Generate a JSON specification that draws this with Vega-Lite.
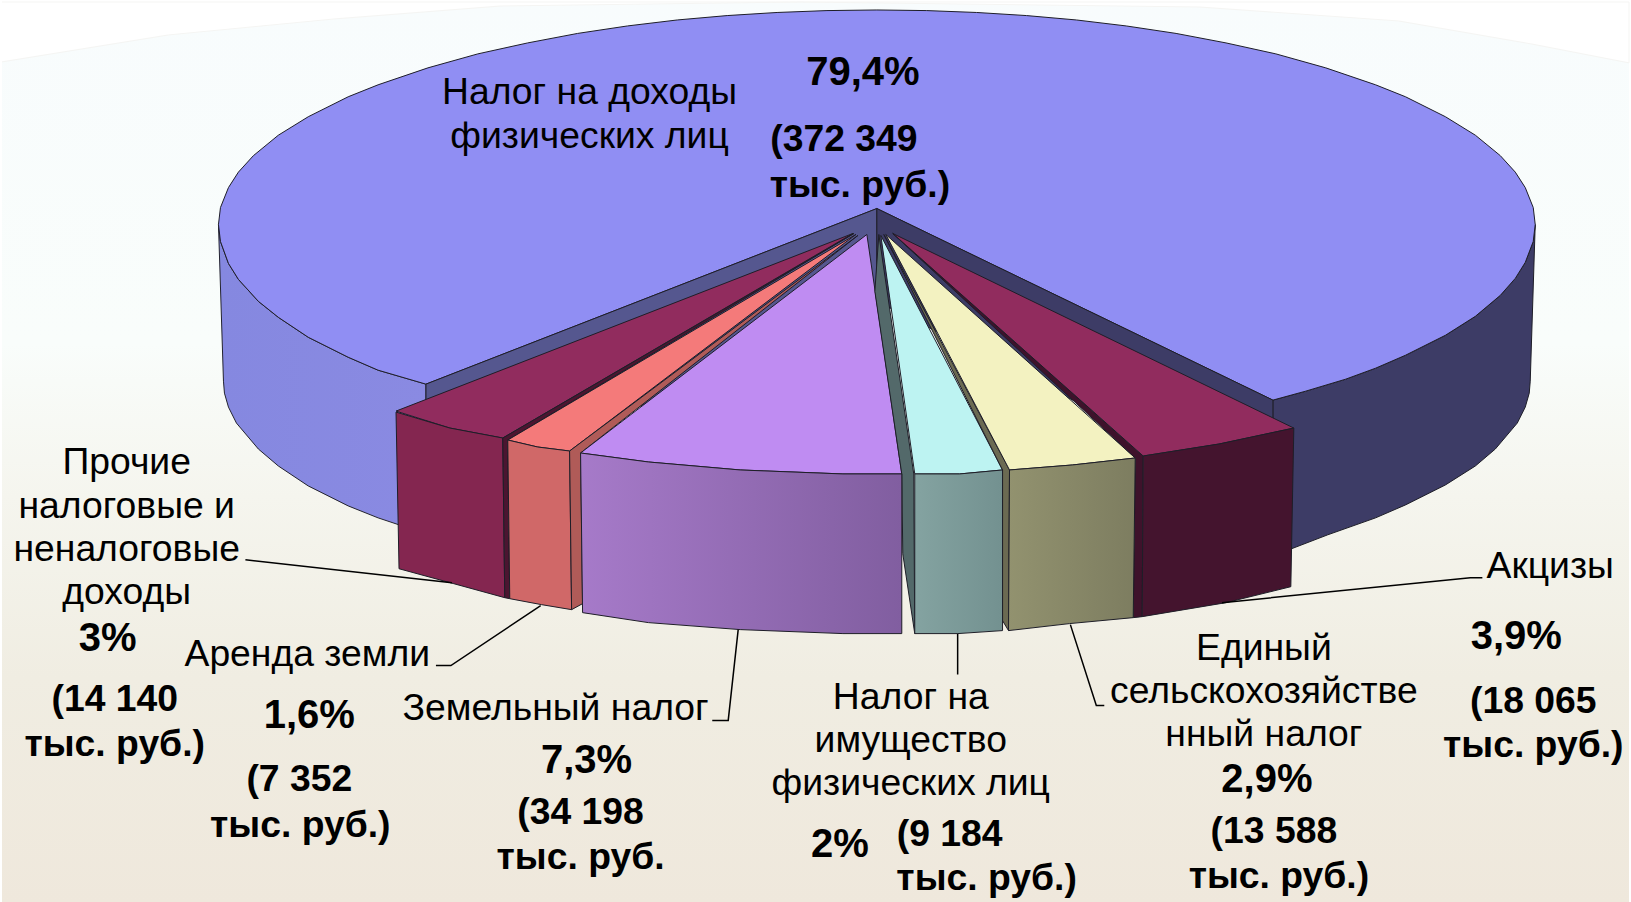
{"$schema":"https://vega.github.io/schema/vega-lite/v6.json","width":1631,"height":902,"padding":0,"autosize":{"type":"fit","contains":"padding"},"background":"#ffffff","config":{"view":{"stroke":null},"axis":{"disable":true}},
"datasets":{
"bg":[{"x":0,"y":0,"x2":1631,"y2":902}],
"arc":[{"s":"a","i":1,"x":0,"y":0},{"s":"a","i":2,"x":1631,"y":0},{"s":"a","i":3,"x":1631,"y":61},{"s":"a","i":4,"x":1533,"y":42},{"s":"a","i":5,"x":1400,"y":19},{"s":"a","i":6,"x":1200,"y":5},{"s":"a","i":7,"x":800,"y":0},{"s":"a","i":8,"x":500,"y":4},{"s":"a","i":9,"x":333,"y":17},{"s":"a","i":10,"x":167,"y":33},{"s":"a","i":11,"x":0,"y":60}],
"leftwall":[{"s":"l","i":1,"x":217,"y":223},{"s":"l","i":2,"x":219,"y":240},{"s":"l","i":3,"x":227,"y":262},{"s":"l","i":4,"x":237,"y":278},{"s":"l","i":5,"x":257,"y":300},{"s":"l","i":6,"x":277,"y":316},{"s":"l","i":7,"x":307,"y":336},{"s":"l","i":8,"x":347,"y":356},{"s":"l","i":9,"x":377,"y":369},{"s":"l","i":10,"x":425,"y":383},{"s":"l","i":11,"x":425,"y":533},{"s":"l","i":12,"x":377,"y":517},{"s":"l","i":13,"x":347,"y":505},{"s":"l","i":14,"x":307,"y":485},{"s":"l","i":15,"x":277,"y":465},{"s":"l","i":16,"x":257,"y":448},{"s":"l","i":17,"x":235,"y":422},{"s":"l","i":18,"x":227,"y":406},{"s":"l","i":19,"x":223,"y":392},{"s":"l","i":20,"x":222,"y":380},{"s":"l","i":21,"x":217,"y":223}],
"flat":[
{"s":"Правая стенка","i":1,"x":1274,"y":399},{"s":"Правая стенка","i":2,"x":1307,"y":390},{"s":"Правая стенка","i":3,"x":1347,"y":378},{"s":"Правая стенка","i":4,"x":1377,"y":367},{"s":"Правая стенка","i":5,"x":1407,"y":354},{"s":"Правая стенка","i":6,"x":1447,"y":334},{"s":"Правая стенка","i":7,"x":1477,"y":315},{"s":"Правая стенка","i":8,"x":1502,"y":294},{"s":"Правая стенка","i":9,"x":1517,"y":277},{"s":"Правая стенка","i":10,"x":1527,"y":261},{"s":"Правая стенка","i":11,"x":1535,"y":240},{"s":"Правая стенка","i":12,"x":1537,"y":223},{"s":"Правая стенка","i":13,"x":1532,"y":380},{"s":"Правая стенка","i":14,"x":1531,"y":392},{"s":"Правая стенка","i":15,"x":1527,"y":406},{"s":"Правая стенка","i":16,"x":1519,"y":422},{"s":"Правая стенка","i":17,"x":1497,"y":448},{"s":"Правая стенка","i":18,"x":1477,"y":465},{"s":"Правая стенка","i":19,"x":1447,"y":484},{"s":"Правая стенка","i":20,"x":1407,"y":504},{"s":"Правая стенка","i":21,"x":1377,"y":517},{"s":"Правая стенка","i":22,"x":1329,"y":534},{"s":"Правая стенка","i":23,"x":1290,"y":549},{"s":"Правая стенка","i":24,"x":1274,"y":555},{"s":"Правая стенка","i":25,"x":1274,"y":399},
{"s":"Верх НДФЛ","i":1,"x":217,"y":223},{"s":"Верх НДФЛ","i":2,"x":219,"y":206},{"s":"Верх НДФЛ","i":3,"x":227,"y":186},{"s":"Верх НДФЛ","i":4,"x":237,"y":170.5},{"s":"Верх НДФЛ","i":5,"x":252,"y":154},{"s":"Верх НДФЛ","i":6,"x":277,"y":133.5},{"s":"Верх НДФЛ","i":7,"x":307,"y":115},{"s":"Верх НДФЛ","i":8,"x":347,"y":95},{"s":"Верх НДФЛ","i":9,"x":377,"y":83},{"s":"Верх НДФЛ","i":10,"x":427,"y":66},{"s":"Верх НДФЛ","i":11,"x":477,"y":52},{"s":"Верх НДФЛ","i":12,"x":527,"y":41},{"s":"Верх НДФЛ","i":13,"x":577,"y":31.5},{"s":"Верх НДФЛ","i":14,"x":627,"y":24},{"s":"Верх НДФЛ","i":15,"x":677,"y":18},{"s":"Верх НДФЛ","i":16,"x":727,"y":13.6},{"s":"Верх НДФЛ","i":17,"x":777,"y":10.5},{"s":"Верх НДФЛ","i":18,"x":827,"y":8.6},{"s":"Верх НДФЛ","i":19,"x":877,"y":8},{"s":"Верх НДФЛ","i":20,"x":927,"y":8.6},{"s":"Верх НДФЛ","i":21,"x":977,"y":10.5},{"s":"Верх НДФЛ","i":22,"x":1027,"y":13.6},{"s":"Верх НДФЛ","i":23,"x":1077,"y":18},{"s":"Верх НДФЛ","i":24,"x":1127,"y":24},{"s":"Верх НДФЛ","i":25,"x":1177,"y":31.5},{"s":"Верх НДФЛ","i":26,"x":1227,"y":41},{"s":"Верх НДФЛ","i":27,"x":1277,"y":52},{"s":"Верх НДФЛ","i":28,"x":1327,"y":66},{"s":"Верх НДФЛ","i":29,"x":1377,"y":83},{"s":"Верх НДФЛ","i":30,"x":1407,"y":95},{"s":"Верх НДФЛ","i":31,"x":1447,"y":115},{"s":"Верх НДФЛ","i":32,"x":1477,"y":133.5},{"s":"Верх НДФЛ","i":33,"x":1502,"y":154},{"s":"Верх НДФЛ","i":34,"x":1517,"y":170.5},{"s":"Верх НДФЛ","i":35,"x":1527,"y":186},{"s":"Верх НДФЛ","i":36,"x":1535,"y":206},{"s":"Верх НДФЛ","i":37,"x":1537,"y":223},{"s":"Верх НДФЛ","i":38,"x":1535,"y":240},{"s":"Верх НДФЛ","i":39,"x":1527,"y":261},{"s":"Верх НДФЛ","i":40,"x":1517,"y":277},{"s":"Верх НДФЛ","i":41,"x":1502,"y":294},{"s":"Верх НДФЛ","i":42,"x":1477,"y":315},{"s":"Верх НДФЛ","i":43,"x":1447,"y":334},{"s":"Верх НДФЛ","i":44,"x":1407,"y":354},{"s":"Верх НДФЛ","i":45,"x":1377,"y":367},{"s":"Верх НДФЛ","i":46,"x":1347,"y":378},{"s":"Верх НДФЛ","i":47,"x":1307,"y":390},{"s":"Верх НДФЛ","i":48,"x":1274,"y":399},{"s":"Верх НДФЛ","i":49,"x":877,"y":207},{"s":"Верх НДФЛ","i":50,"x":425,"y":383},{"s":"Верх НДФЛ","i":51,"x":377,"y":369},{"s":"Верх НДФЛ","i":52,"x":347,"y":356},{"s":"Верх НДФЛ","i":53,"x":307,"y":336},{"s":"Верх НДФЛ","i":54,"x":277,"y":316},{"s":"Верх НДФЛ","i":55,"x":257,"y":300},{"s":"Верх НДФЛ","i":56,"x":237,"y":278},{"s":"Верх НДФЛ","i":57,"x":227,"y":262},{"s":"Верх НДФЛ","i":58,"x":219,"y":240},{"s":"Верх НДФЛ","i":59,"x":217,"y":223},
{"s":"Срез левый","i":1,"x":877,"y":207},{"s":"Срез левый","i":2,"x":425,"y":383},{"s":"Срез левый","i":3,"x":425,"y":500},{"s":"Срез левый","i":4,"x":877,"y":300},{"s":"Срез левый","i":5,"x":877,"y":207},
{"s":"Срез правый","i":1,"x":877,"y":207},{"s":"Срез правый","i":2,"x":1274,"y":399},{"s":"Срез правый","i":3,"x":1274,"y":500},{"s":"Срез правый","i":4,"x":877,"y":300},{"s":"Срез правый","i":5,"x":877,"y":207},
{"s":"Прочие верх","i":1,"x":853,"y":232},{"s":"Прочие верх","i":2,"x":395,"y":410},{"s":"Прочие верх","i":3,"x":449,"y":427},{"s":"Прочие верх","i":4,"x":502,"y":437},{"s":"Прочие верх","i":5,"x":853,"y":232},
{"s":"Прочие фронт","i":1,"x":395,"y":411},{"s":"Прочие фронт","i":2,"x":449,"y":427},{"s":"Прочие фронт","i":3,"x":502,"y":437},{"s":"Прочие фронт","i":4,"x":504,"y":597},{"s":"Прочие фронт","i":5,"x":453,"y":583},{"s":"Прочие фронт","i":6,"x":398,"y":568},{"s":"Прочие фронт","i":7,"x":395,"y":411},
{"s":"Прочие бок","i":1,"x":854,"y":232},{"s":"Прочие бок","i":2,"x":507,"y":439},{"s":"Прочие бок","i":3,"x":509,"y":598},{"s":"Прочие бок","i":4,"x":504,"y":597},{"s":"Прочие бок","i":5,"x":502,"y":437},{"s":"Прочие бок","i":6,"x":854,"y":232},
{"s":"Аренда верх","i":1,"x":856,"y":233},{"s":"Аренда верх","i":2,"x":507,"y":439},{"s":"Аренда верх","i":3,"x":537,"y":446},{"s":"Аренда верх","i":4,"x":569,"y":450},{"s":"Аренда верх","i":5,"x":856,"y":233},
{"s":"Аренда фронт","i":1,"x":507,"y":439},{"s":"Аренда фронт","i":2,"x":537,"y":446},{"s":"Аренда фронт","i":3,"x":569,"y":450},{"s":"Аренда фронт","i":4,"x":571,"y":609},{"s":"Аренда фронт","i":5,"x":541,"y":604},{"s":"Аренда фронт","i":6,"x":509,"y":598},{"s":"Аренда фронт","i":7,"x":507,"y":439},
{"s":"Аренда бок","i":1,"x":858,"y":234},{"s":"Аренда бок","i":2,"x":580,"y":452},{"s":"Аренда бок","i":3,"x":582,"y":603},{"s":"Аренда бок","i":4,"x":571,"y":609},{"s":"Аренда бок","i":5,"x":569,"y":450},{"s":"Аренда бок","i":6,"x":858,"y":234},
{"s":"Земельный верх","i":1,"x":867,"y":233},{"s":"Земельный верх","i":2,"x":580,"y":452},{"s":"Земельный верх","i":3,"x":648,"y":461},{"s":"Земельный верх","i":4,"x":740,"y":469},{"s":"Земельный верх","i":5,"x":843,"y":473},{"s":"Земельный верх","i":6,"x":902,"y":473},{"s":"Земельный верх","i":7,"x":867,"y":233},
{"s":"Имущество бок","i":1,"x":879,"y":233},{"s":"Имущество бок","i":2,"x":914,"y":473},{"s":"Имущество бок","i":3,"x":915,"y":633},{"s":"Имущество бок","i":4,"x":903,"y":553},{"s":"Имущество бок","i":5,"x":902,"y":473},{"s":"Имущество бок","i":6,"x":875,"y":290},{"s":"Имущество бок","i":7,"x":879,"y":233},
{"s":"Имущество верх","i":1,"x":881,"y":234},{"s":"Имущество верх","i":2,"x":915,"y":473},{"s":"Имущество верх","i":3,"x":960,"y":473},{"s":"Имущество верх","i":4,"x":1003,"y":469},{"s":"Имущество верх","i":5,"x":881,"y":234},
{"s":"ЕСХН бок","i":1,"x":884,"y":233},{"s":"ЕСХН бок","i":2,"x":1010,"y":469},{"s":"ЕСХН бок","i":3,"x":1009,"y":630},{"s":"ЕСХН бок","i":4,"x":1003,"y":620},{"s":"ЕСХН бок","i":5,"x":1003,"y":469},{"s":"ЕСХН бок","i":6,"x":884,"y":233},
{"s":"ЕСХН верх","i":1,"x":886,"y":233},{"s":"ЕСХН верх","i":2,"x":1010,"y":469},{"s":"ЕСХН верх","i":3,"x":1073,"y":464},{"s":"ЕСХН верх","i":4,"x":1136,"y":457},{"s":"ЕСХН верх","i":5,"x":886,"y":233},
{"s":"Акцизы бок","i":1,"x":893,"y":232},{"s":"Акцизы бок","i":2,"x":1144,"y":455},{"s":"Акцизы бок","i":3,"x":1143,"y":616},{"s":"Акцизы бок","i":4,"x":1134,"y":617},{"s":"Акцизы бок","i":5,"x":1136,"y":457},{"s":"Акцизы бок","i":6,"x":893,"y":232},
{"s":"Акцизы верх","i":1,"x":893,"y":232},{"s":"Акцизы верх","i":2,"x":1144,"y":455},{"s":"Акцизы верх","i":3,"x":1220,"y":443},{"s":"Акцизы верх","i":4,"x":1295,"y":427},{"s":"Акцизы верх","i":5,"x":893,"y":232},
{"s":"Акцизы фронт","i":1,"x":1144,"y":455},{"s":"Акцизы фронт","i":2,"x":1220,"y":443},{"s":"Акцизы фронт","i":3,"x":1295,"y":427},{"s":"Акцизы фронт","i":4,"x":1292,"y":586},{"s":"Акцизы фронт","i":5,"x":1227,"y":602},{"s":"Акцизы фронт","i":6,"x":1143,"y":616},{"s":"Акцизы фронт","i":7,"x":1144,"y":455}],
"purple":[{"s":"p","i":1,"x":580,"y":452},{"s":"p","i":2,"x":648,"y":461},{"s":"p","i":3,"x":740,"y":469},{"s":"p","i":4,"x":843,"y":473},{"s":"p","i":5,"x":902,"y":473},{"s":"p","i":6,"x":902,"y":633},{"s":"p","i":7,"x":843,"y":633},{"s":"p","i":8,"x":740,"y":629},{"s":"p","i":9,"x":648,"y":622},{"s":"p","i":10,"x":582,"y":612},{"s":"p","i":11,"x":580,"y":452}],
"teal":[{"s":"t","i":1,"x":915,"y":473},{"s":"t","i":2,"x":960,"y":473},{"s":"t","i":3,"x":1003,"y":469},{"s":"t","i":4,"x":1003,"y":630},{"s":"t","i":5,"x":958,"y":633},{"s":"t","i":6,"x":915,"y":633},{"s":"t","i":7,"x":915,"y":473}],
"olive":[{"s":"o","i":1,"x":1010,"y":469},{"s":"o","i":2,"x":1073,"y":464},{"s":"o","i":3,"x":1136,"y":457},{"s":"o","i":4,"x":1134,"y":617},{"s":"o","i":5,"x":1070,"y":623},{"s":"o","i":6,"x":1009,"y":630},{"s":"o","i":7,"x":1010,"y":469}],
"leaders":[{"s":"1","i":1,"x":244,"y":559},{"s":"1","i":2,"x":451,"y":582},{"s":"2","i":1,"x":435,"y":665},{"s":"2","i":2,"x":450,"y":665},{"s":"2","i":3,"x":540,"y":605},{"s":"3","i":1,"x":712,"y":720},{"s":"3","i":2,"x":728,"y":720},{"s":"3","i":3,"x":738,"y":629},{"s":"4","i":1,"x":958,"y":633},{"s":"4","i":2,"x":958,"y":674},{"s":"5","i":1,"x":1071,"y":624},{"s":"5","i":2,"x":1097,"y":705},{"s":"5","i":3,"x":1105,"y":705},{"s":"6","i":1,"x":1223,"y":602},{"s":"6","i":2,"x":1472,"y":577},{"s":"6","i":3,"x":1484,"y":577}],
"reg":[{"t":"Налог на доходы","x":589,"y":91},{"t":"физических лиц","x":589,"y":135},{"t":"Прочие","x":125,"y":462},{"t":"налоговые и","x":125,"y":506},{"t":"неналоговые","x":125,"y":549},{"t":"доходы","x":125,"y":592},{"t":"Аренда земли","x":306,"y":654},{"t":"Земельный налог","x":555,"y":709},{"t":"Налог на","x":911,"y":698},{"t":"имущество","x":911,"y":741},{"t":"физических лиц","x":911,"y":784},{"t":"Единый","x":1265,"y":648},{"t":"сельскохозяйстве","x":1265,"y":692},{"t":"нный налог","x":1265,"y":735},{"t":"Акцизы","x":1552,"y":566}],
"bold":[{"t":"(372 349","x":844,"y":138},{"t":"тыс. руб.)","x":860,"y":184},{"t":"(14 140","x":113,"y":700},{"t":"тыс. руб.)","x":113,"y":745},{"t":"(7 352","x":298,"y":780},{"t":"тыс. руб.)","x":299,"y":826},{"t":"(34 198","x":580,"y":813},{"t":"тыс. руб.","x":580,"y":858},{"t":"(9 184","x":950,"y":835},{"t":"тыс. руб.)","x":987,"y":879},{"t":"(13 588","x":1275,"y":832},{"t":"тыс. руб.)","x":1280,"y":877},{"t":"(18 065","x":1535,"y":702},{"t":"тыс. руб.)","x":1535,"y":746}],
"pct":[{"t":"79,4%","x":863,"y":71},{"t":"3%","x":106,"y":638},{"t":"1,6%","x":308,"y":716},{"t":"7,3%","x":586,"y":761},{"t":"2%","x":840,"y":845},{"t":"2,9%","x":1268,"y":780},{"t":"3,9%","x":1518,"y":636}]
},
"encoding":{"x":{"field":"x","type":"quantitative","scale":{"domain":[0,1631],"nice":false,"zero":false},"axis":null},"y":{"field":"y","type":"quantitative","scale":{"domain":[902,0],"nice":false,"zero":false},"axis":null}},
"layer":[
{"data":{"name":"bg"},"mark":{"type":"rect","fill":{"gradient":"linear","x1":0,"y1":0,"x2":0,"y2":1,"stops":[{"offset":0,"color":"#f8fcfd"},{"offset":0.38,"color":"#f9fdfb"},{"offset":0.55,"color":"#f5f5ee"},{"offset":0.75,"color":"#f0ede2"},{"offset":1,"color":"#efe8dc"}]}},"encoding":{"x2":{"field":"x2"},"y2":{"field":"y2"}}},
{"data":{"name":"arc"},"mark":{"type":"line","fill":"#ffffff","stroke":"#f5f5f3","strokeWidth":1},"encoding":{"order":{"field":"i"}}},
{"data":{"name":"leftwall"},"mark":{"type":"line","stroke":"#22222e","strokeWidth":1,"fill":{"gradient":"linear","x1":0,"y1":0,"x2":1,"y2":0,"stops":[{"offset":0,"color":"#8588e0"},{"offset":1,"color":"#8a8ae2"}]}},"encoding":{"order":{"field":"i"}}},
{"data":{"name":"flat"},"mark":{"type":"line","stroke":"#1e1e28","strokeWidth":1},"encoding":{"order":{"field":"i"},"detail":{"field":"s"},"fill":{"field":"s","type":"nominal","legend":null,"scale":{"domain":["Правая стенка","Верх НДФЛ","Срез левый","Срез правый","Прочие верх","Прочие фронт","Прочие бок","Аренда верх","Аренда фронт","Аренда бок","Земельный верх","Имущество бок","Имущество верх","ЕСХН бок","ЕСХН верх","Акцизы бок","Акцизы верх","Акцизы фронт"],"range":["#3d3c66","#908ef3","#55578f","#3d3c66","#912c5e","#842650","#4b1530","#f47a7a","#d06868","#b05b58","#bf8cf2","#53696a","#bdf3f2","#6b6a52","#f3f2c1","#3e122b","#912c5e","#44142e"]}}}},
{"data":{"name":"purple"},"mark":{"type":"line","stroke":"#1e1e28","strokeWidth":1,"fill":{"gradient":"linear","x1":0,"y1":0,"x2":1,"y2":0,"stops":[{"offset":0,"color":"#a67ac9"},{"offset":1,"color":"#815ea0"}]}},"encoding":{"order":{"field":"i"}}},
{"data":{"name":"teal"},"mark":{"type":"line","stroke":"#1e1e28","strokeWidth":1,"fill":{"gradient":"linear","x1":0,"y1":0,"x2":1,"y2":0,"stops":[{"offset":0,"color":"#84a3a1"},{"offset":1,"color":"#739190"}]}},"encoding":{"order":{"field":"i"}}},
{"data":{"name":"olive"},"mark":{"type":"line","stroke":"#1e1e28","strokeWidth":1,"fill":{"gradient":"linear","x1":0,"y1":0,"x2":1,"y2":0,"stops":[{"offset":0,"color":"#92926f"},{"offset":1,"color":"#7d7d60"}]}},"encoding":{"order":{"field":"i"}}},
{"data":{"name":"leaders"},"mark":{"type":"line","stroke":"#000000","strokeWidth":1.5},"encoding":{"order":{"field":"i"},"detail":{"field":"s"}}},
{"data":{"name":"reg"},"mark":{"type":"text","font":"Liberation Sans","fontSize":37.3,"align":"center","baseline":"middle","color":"#000000"},"encoding":{"text":{"field":"t"}}},
{"data":{"name":"bold"},"mark":{"type":"text","font":"Liberation Sans","fontSize":37.3,"fontWeight":"bold","align":"center","baseline":"middle","color":"#000000"},"encoding":{"text":{"field":"t"}}},
{"data":{"name":"pct"},"mark":{"type":"text","font":"Liberation Sans","fontSize":40,"fontWeight":"bold","align":"center","baseline":"middle","color":"#000000"},"encoding":{"text":{"field":"t"}}}
]}
